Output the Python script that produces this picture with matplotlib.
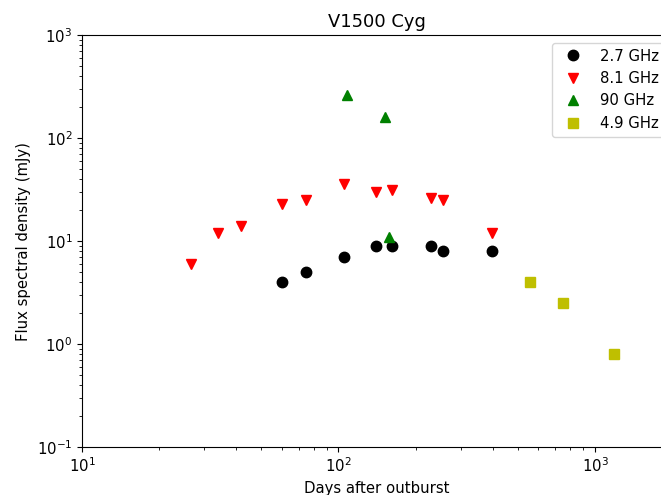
import matplotlib
matplotlib.use("Agg")
import matplotlib.pyplot as plt

days_27 = [60, 75, 105, 140, 161, 229, 255, 396]
flux_27 = [4.0, 5.0, 7.0, 9.0, 9.0, 9.0, 8.0, 8.0]

days_81 = [26.7, 34, 41.5, 60, 75, 105, 140, 161, 229, 255, 396]
flux_81 = [6.0, 12, 14, 23, 25, 36, 30, 31, 26, 25, 12]

days_90 = [108, 152, 158]
flux_90 = [260, 160, 11]

days_49 = [557, 750, 1190]
flux_49 = [4.0, 2.5, 0.8]

plt.rcParams['font.size'] = 10.7

fig = plt.figure(figsize=(6.61, 4.95), dpi=100)
ax = fig.add_axes([0.124, 0.097, 0.893, 0.832])
ax.plot(days_27, flux_27, 'ko', markersize=7.5, label='2.7 GHz')
ax.plot(days_81, flux_81, 'rv', markersize=7.5, label='8.1 GHz')
ax.plot(days_90, flux_90, 'g^', markersize=7.5, label='90 GHz')
ax.plot(days_49, flux_49, 'ys', markersize=7.5, label='4.9 GHz')
ax.set_xscale('log')
ax.set_yscale('log')
ax.set_xlim(10, 2000)
ax.set_ylim(0.1, 1000)
ax.set_xlabel('Days after outburst')
ax.set_ylabel('Flux spectral density (mJy)')
ax.set_title('V1500 Cyg', fontsize=12.9)
ax.legend(loc='upper right')
fig.savefig('out.png', dpi=100)
